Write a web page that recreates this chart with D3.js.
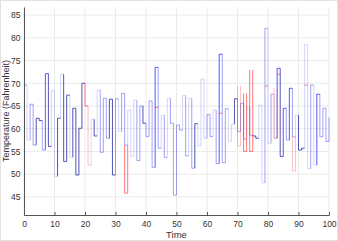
<!DOCTYPE html>
<html>
<head>
<meta charset="utf-8">
<script src="https://cdn.jsdelivr.net/npm/d3@7"></script>
<style>
  body { margin: 0; background: #fff; }
  svg text { font-family: "Liberation Sans", Arial, sans-serif; fill: #333; }
</style>
</head>
<body>
<div class="chart"></div>
<script>
var svgWidth = 338;
var svgHeight = 241;

// temperature reading at each time step (t = 0 .. 100)
var temps = [69.6, 57.5, 65.4, 56.4, 62.3, 61.8, 55.3, 72.1, 56.1, 68.4,
  49.5, 62.3, 72.0, 52.8, 67.4, 53.7, 64.5, 49.8, 60.1, 70.0,
  65.0, 52.0, 62.1, 58.4, 68.5, 54.8, 66.7, 57.9, 66.5, 49.8,
  66.6, 59.4, 67.8, 56.4, 64.1, 53.9, 66.3, 53.0, 65.0, 61.2,
  58.3, 66.1, 51.5, 73.5, 55.7, 63.0, 53.7, 66.7, 61.2, 45.4,
  60.8, 59.7, 67.3, 54.0, 66.7, 51.3, 61.1, 56.2, 70.9, 57.9,
  63.1, 58.3, 64.1, 52.3, 76.4, 52.5, 64.4, 57.2, 61.0, 66.6,
  59.4, 65.6, 57.7, 64.8, 58.6, 58.4, 57.9, 65.2, 48.1, 82.1,
  56.8, 67.6, 57.9, 73.3, 53.9, 64.5, 57.5, 68.9, 58.2, 63.0,
  55.3, 55.7, 78.5, 51.2, 69.6, 52.0, 67.6, 58.2, 64.5, 57.2,
  62.5];

// shade of each step: n navy, d bright blue, m mid blue, l light blue, r red, p light red
var stepShades = [
  "mlmmnnmdnl",
  "lnlnnlnnnn",
  "rplnlmmmnn",
  "mlmmlllmmn",
  "mmmdmlmlmm",
  "mmlmlmnlll",
  "mmlmdmmlln",
  "mmmlmnnllm",
  "lmldndmdml",
  "nnllmldmmm",
  "m"
].join("").split("");

// red readings shown over the blue ones: [time, low, high, shade]
var redBoxes = [[33, 45.8, 56.4, "r"], [70, 56.2, 69.4, "p"], [72, 55.0, 67.8, "r"],
  [74, 55.0, 73.0, "r"], [82, 57.9, 68.9, "p"], [88, 50.7, 58.2, "p"]];
// short red marks: [time, value]
var redMarks = [[43, 64.7], [64, 63.4], [79, 69.4], [92, 69.6], [83, 72.0]];

var xTicks = d3.range(0, 101, 10);
var yTicks = [45, 50, 55, 60, 65, 70, 75, 80, 85];

var palette = {
  n: { c: "#2a2aa8", o: 0.8 },
  d: { c: "#2222ff", o: 0.75 },
  m: { c: "#3333ee", o: 0.45 },
  l: { c: "#4444ee", o: 0.22 },
  r: { c: "#ff2020", o: 0.6 },
  p: { c: "#ff3030", o: 0.3 }
};

var margin = { top: 7, right: 9, bottom: 26, left: 24 };
var width = svgWidth - margin.left - margin.right;
var height = svgHeight - margin.top - margin.bottom;

var root = d3.select(".chart")
  .append("svg")
  .attr("width", svgWidth)
  .attr("height", svgHeight);

root.append("rect")
  .attr("x", 0.5).attr("y", 0.5)
  .attr("width", svgWidth - 1).attr("height", svgHeight - 1)
  .attr("fill", "#fff")
  .attr("stroke", "#e2e2e2");

var chart = root.append("g")
  .attr("transform", "translate(" + margin.left + "," + margin.top + ")");

var x = d3.scaleLinear().domain([0, 100]).range([0, width]);
var y = d3.scaleLinear().domain([41, 86.8]).range([height, 0]);

// grid
chart.append("g").selectAll("line")
  .data(xTicks)
  .enter().append("line")
  .attr("x1", function(d) { return x(d); })
  .attr("x2", function(d) { return x(d); })
  .attr("y1", 0).attr("y2", height)
  .attr("stroke", "#ebebeb");

chart.append("g").selectAll("line")
  .data(yTicks)
  .enter().append("line")
  .attr("x1", 0).attr("x2", width)
  .attr("y1", function(d) { return y(d); })
  .attr("y2", function(d) { return y(d); })
  .attr("stroke", "#ebebeb");

var line = d3.line()
  .x(function(d) { return x(d[0]); })
  .y(function(d) { return y(d[1]); });

// stairs, one path per step
var steps = temps.map(function(v, i) {
  var prev = i > 0 ? temps[i - 1] : v;
  var pts = [[i, prev], [i, v]];
  if (i < 100) pts.push([i + 1, v]);
  return { key: stepShades[i], pts: pts };
});

chart.append("g").selectAll("path")
  .data(steps)
  .enter().append("path")
  .attr("d", function(d) { return line(d.pts); })
  .attr("fill", "none")
  .attr("stroke", function(d) { return palette[d.key].c; })
  .attr("stroke-opacity", function(d) { return palette[d.key].o; })
  .attr("stroke-width", 1);

chart.append("g").selectAll("path")
  .data(redBoxes)
  .enter().append("path")
  .attr("d", function(d) {
    return line([[d[0], d[2]], [d[0], d[1]], [d[0] + 1, d[1]], [d[0] + 1, d[2]]]);
  })
  .attr("fill", "none")
  .attr("stroke", function(d) { return palette[d[3]].c; })
  .attr("stroke-opacity", function(d) { return palette[d[3]].o; });

chart.append("g").selectAll("line")
  .data(redMarks)
  .enter().append("line")
  .attr("x1", function(d) { return x(d[0]); })
  .attr("x2", function(d) { return x(d[0] + 1); })
  .attr("y1", function(d) { return y(d[1]); })
  .attr("y2", function(d) { return y(d[1]); })
  .attr("stroke", "#ff2020")
  .attr("stroke-opacity", 0.6);

// axes
var bottomAxis = d3.axisBottom(x).tickValues(xTicks).tickSize(-3).tickPadding(5.5);
var leftAxis = d3.axisLeft(y).tickValues(yTicks).tickSize(0).tickPadding(3.5);

var gx = chart.append("g")
  .attr("transform", "translate(0," + height + ")")
  .call(bottomAxis);
var gy = chart.append("g").call(leftAxis);

[gx, gy].forEach(function(g) {
  g.selectAll("path").attr("stroke", "#555");
  g.selectAll("line").attr("stroke", "#555");
  g.selectAll("text").attr("font-size", "8.5px").style("fill", "#333")
    .attr("font-family", "Liberation Sans, Arial, sans-serif");
});

chart.append("text")
  .attr("transform", "rotate(-90)")
  .attr("x", -height / 2)
  .attr("y", -margin.left + 8.7)
  .attr("text-anchor", "middle")
  .attr("font-size", "9px")
  .text("Temperature (Fahrenheit)");

chart.append("text")
  .attr("x", width / 2)
  .attr("y", height + 23)
  .attr("text-anchor", "middle")
  .attr("font-size", "9.5px")
  .text("Time");
</script>
</body>
</html>
